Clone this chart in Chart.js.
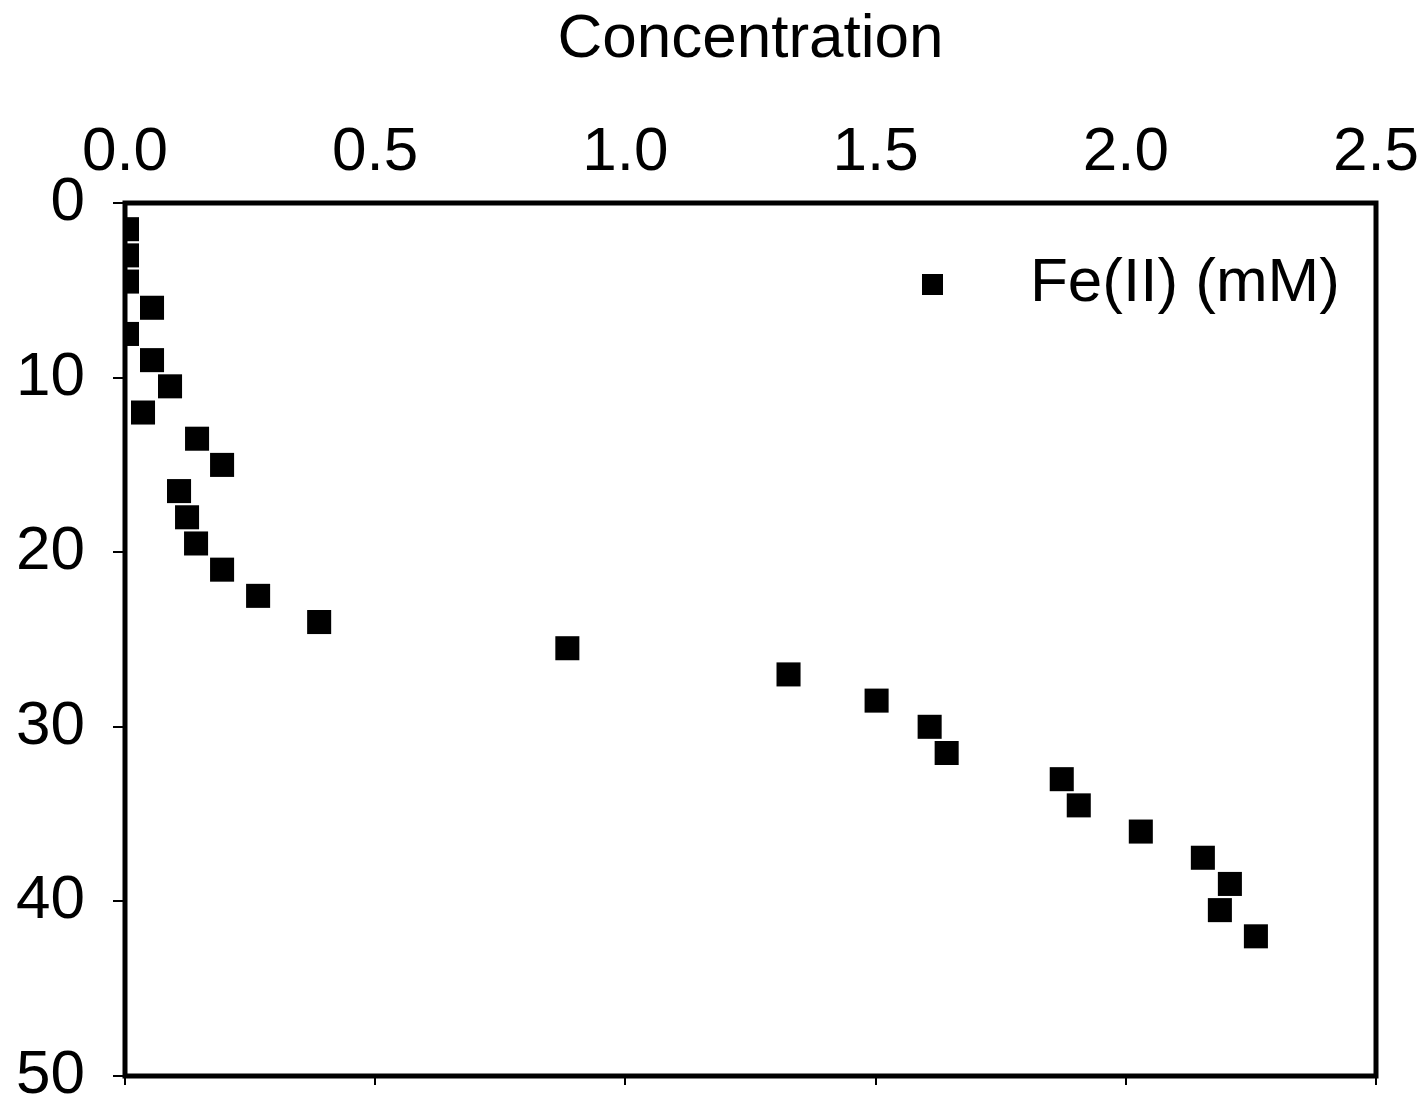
<!DOCTYPE html>
<html>
<head>
<meta charset="utf-8">
<script src="https://cdn.jsdelivr.net/npm/chart.js@4"></script>
<style>
  html, body { margin: 0; padding: 0; background: #fff; }
</style>
</head>
<body>
<canvas id="feChart" width="1427" height="1103"></canvas>
<script>
// Fe(II) profile: concentration (mM) against depth
var depthValues = [1.5, 3, 4.5, 6, 7.5, 9, 10.5, 12, 13.5, 15, 16.5, 18, 19.5, 21,
                   22.5, 24, 25.5, 27, 28.5, 30, 31.5, 33, 34.5, 36, 37.5, 39, 40.5, 42];
var feValues = [0.004, 0.004, 0.004, 0.054, 0.004, 0.054, 0.09, 0.036, 0.144, 0.194,
                0.108, 0.124, 0.142, 0.194, 0.266, 0.388, 0.884, 1.326, 1.502, 1.608,
                1.642, 1.872, 1.906, 2.03, 2.154, 2.208, 2.188, 2.26];
var xTickLabels = ['0.0', '0.5', '1.0', '1.5', '2.0', '2.5'];
var yTickLabels = ['0', '10', '20', '30', '40', '50'];
var seriesName = 'Fe(II) (mM)';
var axisTitle = 'Concentration';

var fontFamily = '"Liberation Sans", Arial, sans-serif';

function makePoints() {
    var pts = [];
    for (var i = 0; i < feValues.length; i++) {
        pts.push({x: feValues[i], y: depthValues[i]});
    }
    return pts;
}

// plot frame (drawn under the markers, like the original)
var framePlugin = {
    id: 'frame',
    beforeDatasetsDraw: function(chart) {
        var a = chart.chartArea;
        var ctx = chart.ctx;
        ctx.save();
        ctx.strokeStyle = '#000';
        ctx.lineWidth = 5;
        ctx.strokeRect(a.left, a.top, a.right - a.left, a.bottom - a.top);
        ctx.restore();
    }
};

// legend sits inside the plot, top right
var insideLegend = {
    id: 'insideLegend',
    afterDatasetsDraw: function(chart) {
        var a = chart.chartArea;
        var ctx = chart.ctx;
        var ds = chart.data.datasets[0];
        var cx = a.right - 444, cy = a.top + 81;
        ctx.save();
        ctx.fillStyle = ds.backgroundColor;
        ctx.fillRect(cx - 10, cy - 10, 21, 21);
        ctx.fillStyle = '#000';
        ctx.font = '62px ' + fontFamily;
        ctx.textBaseline = 'middle';
        ctx.textAlign = 'left';
        ctx.fillText(ds.label, cx + 98, cy);
        ctx.restore();
    }
};

var feCtx = document.getElementById('feChart').getContext('2d');
var feChart = new Chart(feCtx, {
    type: 'scatter',
    data: {
        datasets: [{
            label: seriesName,
            data: makePoints(),
            pointStyle: 'rect',
            pointRadius: 17,
            pointHoverRadius: 17,
            backgroundColor: '#000',
            borderColor: '#000',
            borderWidth: 0
        }]
    },
    options: {
        responsive: false,
        animation: false,
        devicePixelRatio: 1,
        layout: { padding: { top: 0, left: 0, right: 51, bottom: 0 } },
        plugins: {
            tooltip: { enabled: false },
            legend: { display: false }
        },
        scales: {
            x: {
                type: 'linear',
                position: 'top',
                min: 0,
                max: 2.5,
                afterFit: function(scale) {
                    scale.height = 203;
                    scale.paddingLeft = 0;
                    scale.paddingRight = 0;
                },
                afterBuildTicks: function(scale) {
                    scale.ticks = xTickLabels.map(function(t) { return {value: parseFloat(t)}; });
                },
                ticks: {
                    color: '#000',
                    padding: 13,
                    maxRotation: 0,
                    font: { family: fontFamily, size: 62 },
                    callback: function(v, i) { return xTickLabels[i]; }
                },
                grid: { display: true, drawOnChartArea: false, drawTicks: false, color: '#000' },
                border: { display: false },
                title: {
                    display: true,
                    text: axisTitle,
                    color: '#000',
                    font: { family: fontFamily, size: 62 },
                    padding: { top: 3, bottom: 0 }
                }
            },
            x2: {
                type: 'linear',
                position: 'bottom',
                min: 0,
                max: 2.5,
                afterFit: function(scale) {
                    scale.height = 27;
                    scale.paddingLeft = 0;
                    scale.paddingRight = 0;
                },
                afterBuildTicks: function(scale) {
                    scale.ticks = xTickLabels.map(function(t) { return {value: parseFloat(t)}; });
                },
                ticks: { display: false },
                grid: { display: true, drawOnChartArea: false, drawTicks: true, tickLength: 9, color: '#000', lineWidth: 2 },
                border: { display: false }
            },
            y: {
                type: 'linear',
                position: 'left',
                reverse: true,
                min: 0,
                max: 50,
                afterFit: function(scale) {
                    scale.width = 125;
                    scale.paddingTop = 0;
                    scale.paddingBottom = 0;
                },
                afterBuildTicks: function(scale) {
                    scale.ticks = yTickLabels.map(function(t) { return {value: parseFloat(t)}; });
                },
                ticks: {
                    color: '#000',
                    padding: 28,
                    font: { family: fontFamily, size: 62 },
                    callback: function(v, i) { return yTickLabels[i]; }
                },
                grid: { display: true, drawOnChartArea: false, drawTicks: true, tickLength: 12, color: '#000', lineWidth: 2 },
                border: { display: false }
            }
        }
    },
    plugins: [framePlugin, insideLegend]
});
</script>
</body>
</html>
